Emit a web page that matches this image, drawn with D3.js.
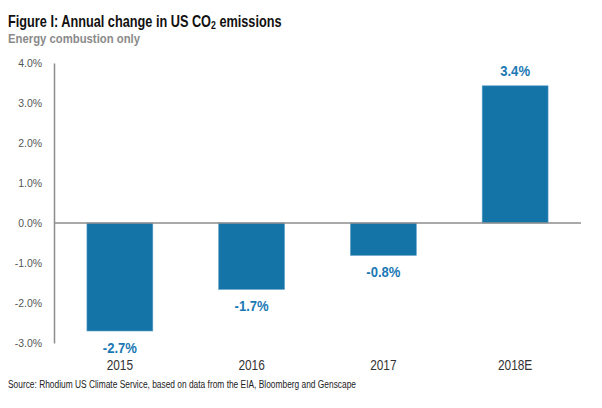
<!DOCTYPE html>
<html>
<head>
<meta charset="utf-8">
<script src="https://cdn.jsdelivr.net/npm/d3@7"></script>
<style>
  body { margin: 0; background: #fff; }
  text { font-family: "Liberation Sans", Arial, sans-serif; }
</style>
</head>
<body>
<div class="canvas"></div>
<script>
// data
const years = ['2015', '2016', '2017', '2018E'];
const changes = [-2.7, -1.66, -0.81, 3.43];
const labels = ['-2.7%', '-1.7%', '-0.8%', '3.4%'];
const yTicks = [4, 3, 2, 1, 0, -1, -2, -3];

const dims = { width: 602, height: 408 };
const plot = { left: 54, right: 581, top: 63, bottom: 343 };

const svg = d3.select('.canvas')
  .append('svg')
  .attr('width', dims.width)
  .attr('height', dims.height);

// the original uses a condensed face, so squeeze the text horizontally
const squeeze = (sel, k) => sel.each(function() {
  const w = this.getComputedTextLength();
  this.setAttribute('textLength', w * k);
  this.setAttribute('lengthAdjust', 'spacingAndGlyphs');
});
const fitTo = (sel, w) => sel
  .attr('textLength', w)
  .attr('lengthAdjust', 'spacingAndGlyphs');

// scales
const x = d3.scaleBand()
  .domain(years)
  .range([plot.left, plot.right])
  .paddingInner(0.5)
  .paddingOuter(0.25);

const y = d3.scaleLinear()
  .domain([-3, 4])
  .range([plot.bottom, plot.top]);

// title (scaled as a group so the subscript stays in place)
const titleG = svg.append('g');
const title = titleG.append('text')
  .attr('font-size', 16).attr('font-weight', 'bold').attr('fill', '#111')
  .html('Figure I: Annual change in US CO<tspan font-size="11" dy="2">2</tspan><tspan dy="-2"> emissions</tspan>');
const tw = title.node().getComputedTextLength();
titleG.attr('transform', `translate(8,27) scale(${274 / tw},1)`);

svg.append('text')
  .attr('x', 8).attr('y', 43)
  .attr('font-size', 12.5).attr('font-weight', 'bold').attr('fill', '#8a8a8a')
  .text('Energy combustion only')
  .call(fitTo, 132);

// y axis
const yAxis = d3.axisLeft(y)
  .tickValues(yTicks)
  .tickSize(0)
  .tickPadding(12)
  .tickFormat(d => d.toFixed(1) + '%');

const yg = svg.append('g')
  .attr('transform', `translate(${plot.left},0)`)
  .call(yAxis);
yg.select('.domain').attr('stroke', '#8c8c8c').attr('stroke-width', 1.5);
yg.selectAll('text')
  .attr('font-size', 11)
  .attr('fill', '#555')
  .style('font-family', '"Liberation Sans", Arial, sans-serif')
  .call(squeeze, 0.95);

// bars
svg.append('g')
  .selectAll('rect')
  .data(changes)
  .enter()
  .append('rect')
    .attr('x', (d, i) => x(years[i]))
    .attr('width', x.bandwidth())
    .attr('y', d => y(Math.max(0, d)))
    .attr('height', d => Math.abs(y(d) - y(0)))
    .attr('fill', '#1474a8')
    .attr('stroke', '#5b9ec7')
    .attr('stroke-width', 0.6);

// zero line
svg.append('line')
  .attr('x1', plot.left).attr('x2', plot.right)
  .attr('y1', y(0)).attr('y2', y(0))
  .attr('stroke', '#8c8c8c').attr('stroke-width', 1.5);

// value labels
svg.append('g')
  .selectAll('text')
  .data(changes)
  .enter()
  .append('text')
    .attr('x', (d, i) => x(years[i]) + x.bandwidth() / 2)
    .attr('y', d => d >= 0 ? y(d) - 10 : y(d) + 22)
    .attr('text-anchor', 'middle')
    .attr('font-size', 14.5)
    .attr('font-weight', 'bold')
    .attr('fill', '#1a78b4')
    .text((d, i) => labels[i])
    .call(squeeze, 0.9);

// category labels
svg.append('g')
  .selectAll('text')
  .data(years)
  .enter()
  .append('text')
    .attr('x', d => x(d) + x.bandwidth() / 2)
    .attr('y', 370)
    .attr('text-anchor', 'middle')
    .attr('font-size', 14.5)
    .attr('fill', '#333')
    .text(d => d)
    .call(squeeze, 0.82);

// source
svg.append('text')
  .attr('x', 8).attr('y', 388)
  .attr('font-size', 10).attr('fill', '#222')
  .text('Source: Rhodium US Climate Service, based on data from the EIA, Bloomberg and Genscape')
  .call(fitTo, 348);
</script>
</body>
</html>
